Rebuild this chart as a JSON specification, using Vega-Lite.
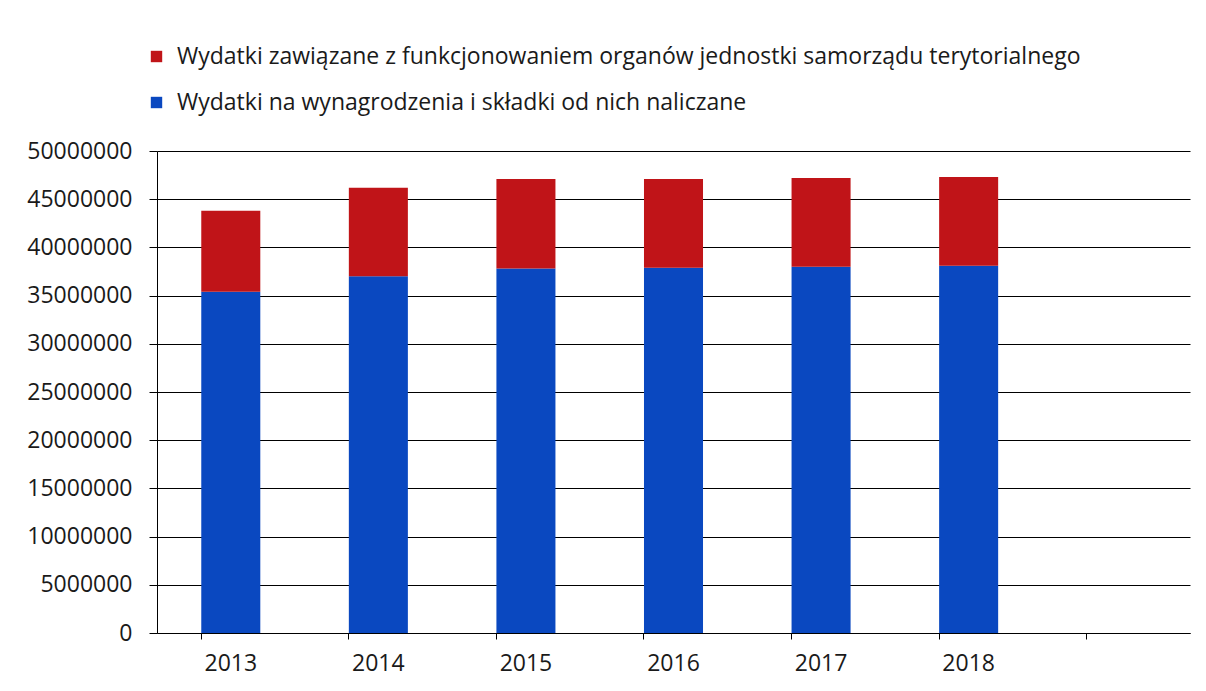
{
  "$schema": "https://vega.github.io/schema/vega-lite/v6.json",
  "width": 1033,
  "height": 482,
  "autosize": {"type": "none"},
  "padding": {"left": 157, "top": 151, "right": 16, "bottom": 58},
  "background": "white",
  "data": {
    "values": [
      {"rok": "2013", "seria": "Wydatki na wynagrodzenia i składki od nich naliczane", "kwota": 35400000},
      {"rok": "2013", "seria": "Wydatki zawiązane z funkcjonowaniem organów jednostki samorządu terytorialnego", "kwota": 8400000},
      {"rok": "2014", "seria": "Wydatki na wynagrodzenia i składki od nich naliczane", "kwota": 37000000},
      {"rok": "2014", "seria": "Wydatki zawiązane z funkcjonowaniem organów jednostki samorządu terytorialnego", "kwota": 9200000},
      {"rok": "2015", "seria": "Wydatki na wynagrodzenia i składki od nich naliczane", "kwota": 37800000},
      {"rok": "2015", "seria": "Wydatki zawiązane z funkcjonowaniem organów jednostki samorządu terytorialnego", "kwota": 9300000},
      {"rok": "2016", "seria": "Wydatki na wynagrodzenia i składki od nich naliczane", "kwota": 37900000},
      {"rok": "2016", "seria": "Wydatki zawiązane z funkcjonowaniem organów jednostki samorządu terytorialnego", "kwota": 9200000},
      {"rok": "2017", "seria": "Wydatki na wynagrodzenia i składki od nich naliczane", "kwota": 38000000},
      {"rok": "2017", "seria": "Wydatki zawiązane z funkcjonowaniem organów jednostki samorządu terytorialnego", "kwota": 9200000},
      {"rok": "2018", "seria": "Wydatki na wynagrodzenia i składki od nich naliczane", "kwota": 38100000},
      {"rok": "2018", "seria": "Wydatki zawiązane z funkcjonowaniem organów jednostki samorządu terytorialnego", "kwota": 9200000}
    ]
  },
  "mark": {"type": "bar"},
  "encoding": {
    "x": {
      "field": "rok",
      "type": "nominal",
      "scale": {"domain": ["2013", "2014", "2015", "2016", "2017", "2018", ""], "paddingInner": 0.6, "paddingOuter": 0.3},
      "axis": {
        "title": null,
        "labelAngle": 0,
        "bandPosition": 0,
        "ticks": true,
        "tickSize": 6,
        "tickColor": "#000000",
        "domainColor": "#000000",
        "labelFont": "Open Sans",
        "labelFontSize": 23,
        "labelColor": "#1a1a1a",
        "labelPadding": 13,
        "grid": false
      }
    },
    "y": {
      "field": "kwota",
      "type": "quantitative",
      "stack": "zero",
      "scale": {"domain": [0, 50000000], "nice": false},
      "axis": {
        "title": null,
        "values": [0, 5000000, 10000000, 15000000, 20000000, 25000000, 30000000, 35000000, 40000000, 45000000, 50000000],
        "format": "d",
        "tickSize": 8,
        "tickColor": "#000000",
        "domainColor": "#000000",
        "gridColor": "#000000",
        "gridOpacity": 1,
        "labelFont": "Open Sans",
        "labelFontSize": 23,
        "labelColor": "#1a1a1a",
        "labelPadding": 17
      }
    },
    "color": {
      "field": "seria",
      "type": "nominal",
      "scale": {
        "domain": ["Wydatki zawiązane z funkcjonowaniem organów jednostki samorządu terytorialnego", "Wydatki na wynagrodzenia i składki od nich naliczane"],
        "range": ["#C01418", "#0A48C0"]
      },
      "legend": {
        "title": null,
        "orient": "none",
        "direction": "vertical",
        "legendX": -12,
        "legendY": -106,
        "symbolType": "square",
        "symbolSize": 130,
        "symbolStrokeWidth": 0,
        "labelFont": "Open Sans",
        "labelFontSize": 23,
        "labelColor": "#1a1a1a",
        "labelLimit": 1100,
        "rowPadding": 22,
        "labelOffset": 9
      }
    },
    "order": {"field": "seria", "sort": "ascending"}
  },
  "config": {"view": {"stroke": null}}
}
